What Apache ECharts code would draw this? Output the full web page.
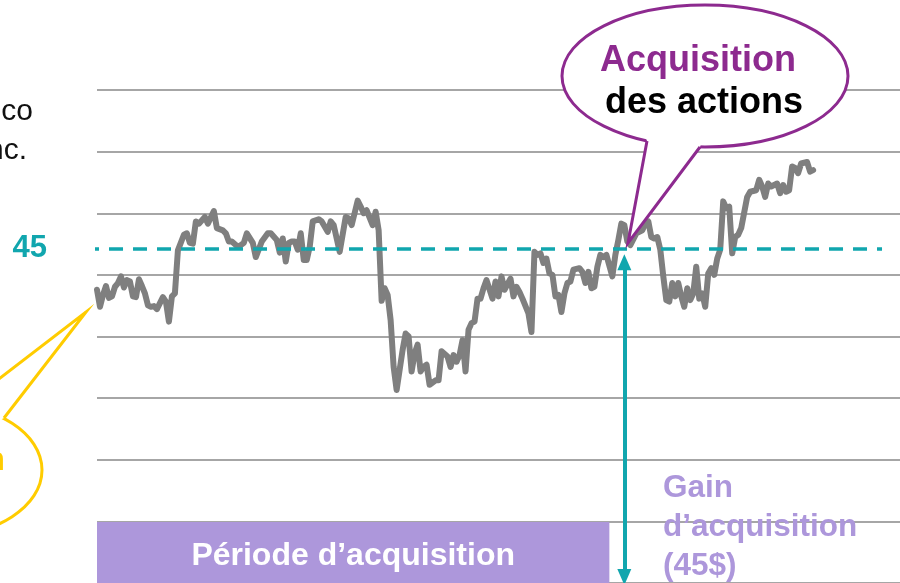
<!DOCTYPE html>
<html>
<head>
<meta charset="utf-8">
<script src="https://cdn.jsdelivr.net/npm/echarts@6/dist/echarts.min.js"></script>
<style>
  html, body { margin: 0; padding: 0; background: #fff; }
  #chart { width: 900px; height: 583px; }
</style>
</head>
<body>
<div id="chart"></div>
<script>
// cours de l'action (jours de bourse / prix en $)
const days = [
  0, 1, 2, 3, 4, 5, 6, 7, 8, 9, 10, 11, 12, 13, 14, 15, 16, 17, 18, 19, 20, 22, 23, 24, 25, 26, 27, 29, 30,
  31, 32, 33, 34, 36, 37, 39, 40, 42, 43, 44, 45, 47, 48, 49, 50, 52, 53, 55, 57, 58, 60, 61, 62, 63, 64,
  65, 66, 67, 68, 69, 70, 71, 72, 74, 75, 77, 78, 79, 81, 83, 84, 85, 87, 88, 89, 90, 92, 93, 94, 95, 96,
  97, 98, 99, 100, 102, 103, 104, 105, 106, 107, 108, 109, 110, 111, 113, 114, 115, 117, 118, 119, 120,
  121, 122, 123, 124, 125, 126, 127, 128, 129, 130, 132, 133, 134, 135, 136, 138, 139, 140, 141, 142,
  144, 145, 146, 147, 148, 149, 150, 151, 152, 153, 154, 155, 156, 157, 158, 159, 161, 162, 163, 164,
  165, 166, 167, 168, 169, 170, 172, 173, 174, 175, 176, 177, 178, 180, 182, 183, 184, 185, 186, 187,
  188, 189, 190, 191, 192, 193, 194, 195, 196, 197, 198, 199, 200, 201, 202, 203, 204, 205, 206, 207,
  208, 209, 210, 211, 212, 213, 214, 215, 217, 218, 220, 221, 222, 223, 224, 225, 227, 228, 229, 230,
  231, 232, 233, 234, 235, 237, 238, 239
];
const prices = [
  39.5, 37.2, 38.8, 40.0, 38.4, 38.6, 39.9, 40.4, 41.3, 39.8, 40.8, 40.6, 38.6, 38.5, 40.9, 40.0, 39.0,
  37.4, 37.2, 37.3, 36.9, 38.5, 37.9, 35.2, 38.6, 39.0, 44.8, 46.9, 47.1,
  45.8, 45.7, 48.7, 48.4, 49.3, 48.4, 50.1, 47.8, 47.5, 47.1, 46.0, 46.0, 45.3, 45.5, 45.8, 47.1, 45.8,
  43.9, 46.0, 47.1, 47.1, 46.2, 44.5, 46.4, 43.3, 45.8,
  46.0, 46.0, 44.9, 47.1, 43.5, 43.5, 45.3, 48.7, 49.0, 48.7, 47.3, 48.7, 48.2, 44.6, 49.3, 49.1, 48.2,
  51.5, 50.7, 49.8, 50.2, 48.2, 50.0, 47.5, 38.0, 39.7,
  38.8, 35.4, 29.1, 26.0, 31.4, 33.6, 33.2, 28.5, 30.9, 32.1, 28.5, 29.1, 29.4, 26.7, 27.3, 27.3, 31.2,
  30.5, 29.1, 30.7, 29.8,
  30.7, 32.7, 28.5, 34.1, 35.0, 35.2, 38.3, 38.3, 39.7, 40.8, 38.3, 40.6, 38.6, 41.3, 39.5, 41.0, 38.6,
  39.9, 39.2, 38.3,
  36.3, 33.8, 44.6, 44.2, 44.4, 43.1, 43.7, 41.7, 41.5, 38.6, 38.8, 36.5, 39.0, 40.4, 40.6, 42.2, 42.4,
  41.9, 40.4, 41.9,
  39.7, 39.9, 42.6, 44.2, 43.9, 44.2, 41.3, 44.2, 46.2, 48.4, 48.2, 46.0, 45.5, 47.1, 47.5, 48.4, 48.7,
  46.6, 46.4, 46.6,
  44.9, 41.3, 38.1, 37.9, 40.4, 38.6, 40.4, 38.6, 37.2, 39.7, 38.1, 39.0, 42.6, 38.3, 39.0, 37.2, 41.7,
  42.4, 41.5, 43.7,
  44.9, 51.4, 50.5, 50.7, 44.4, 46.6, 46.9, 47.8, 52.0, 52.7, 52.9, 54.3, 53.4, 52.0, 53.8, 53.4, 53.8,
  52.5, 53.6, 52.7,
  52.9, 56.1, 55.9, 55.2, 56.5, 56.7, 55.4, 55.6
];

// niveaux et repères
const strikePrice = 45;
const strikeLabel = '45';
const strikeFromDay = -4;
const strikeToDay = 262;
const periodStartDay = 0;
const periodEndDay = 171;
const periodLabel = 'Période d’acquisition';
const grantDay = 176;
const gainLabel = 'Gain\nd’acquisition\n(45$)';
const calloutTitle = 'Acquisition';
const calloutSub = 'des actions';
const companyLines = ['co', 'nc.'];

const FONT = "'Liberation Sans', Arial, sans-serif";
const TEAL = '#11a6ae';
const PURPLE = '#8d2a8f';
const LAVENDER = '#ad97db';
const YELLOW = '#ffcc00';

const priceData = days.map((d, i) => [d, prices[i]]);

const chart = echarts.init(document.getElementById('chart'));

function txt(x, y, text, font, fill, align) {
    return {
        type: 'text', x: x, y: y, z: 110,
        style: {
            text: text, font: font, fill: fill,
            align: align, textAlign: align,
            verticalAlign: 'middle', textVerticalAlign: 'middle'
        }
    };
}

const option = {
    animation: false,
    grid: { left: 97, right: 0, top: 90, bottom: 0 },
    xAxis: { type: 'value', min: 0, max: 268, show: false },
    yAxis: {
        type: 'value',
        min: 0,
        max: 66.4,
        interval: 8.3,
        axisLine: { show: false },
        axisTick: { show: false },
        axisLabel: { show: false },
        splitLine: { lineStyle: { color: '#a6a6a6', width: 2 } }
    },
    series: [
        {
            name: 'cours',
            type: 'line',
            data: priceData,
            showSymbol: false,
            z: 2,
            lineStyle: { color: '#7f7f7f', width: 6, join: 'round', cap: 'round' },
            markArea: {
                silent: true,
                itemStyle: { color: LAVENDER },
                label: {
                    show: true,
                    position: 'inside',
                    offset: [0, 4],
                    formatter: periodLabel,
                    color: '#fff',
                    fontFamily: FONT,
                    fontWeight: 'bold',
                    fontSize: 32
                },
                data: [[{ coord: [periodStartDay, 0] }, { coord: [periodEndDay, 8.2] }]]
            }
        },
        {
            name: 'prix',
            type: 'line',
            clip: false,
            z: 4,
            symbol: 'circle',
            symbolSize: 0,
            showSymbol: true,
            lineStyle: { color: TEAL, width: 3.5, type: [14, 10] },
            data: [
                {
                    value: [strikeFromDay, strikePrice],
                    label: {
                        show: true,
                        position: 'left',
                        distance: 38,
                        formatter: strikeLabel,
                        color: TEAL,
                        fontFamily: FONT,
                        fontWeight: 'bold',
                        fontSize: 31
                    }
                },
                [strikeToDay, strikePrice]
            ],
            markLine: {
                silent: true,
                symbol: ['triangle', 'triangle'],
                symbolSize: [14, 16],
                label: { show: false },
                lineStyle: { color: TEAL, width: 4, type: 'solid' },
                data: [[{ coord: [grantDay, 43.2] }, { coord: [grantDay, 0.8] }]]
            }
        }
    ],
    graphic: [
        // texte coupé à gauche
        txt(33, 112, companyLines[0], '30px ' + FONT, '#111', 'right'),
        txt(27, 151, companyLines[1], '30px ' + FONT, '#111', 'right'),

        // bulle jaune (coupée)
        { type: 'ellipse', z: 100, shape: { cx: -60, cy: 470, rx: 102, ry: 66 },
          style: { fill: '#fff', stroke: YELLOW, lineWidth: 3 } },
        { type: 'polygon', z: 101, shape: { points: [[-40, 409], [86, 312], [4, 418], [-20, 430]] },
          style: { fill: '#fff' } },
        { type: 'polyline', z: 102, shape: { points: [[-40, 409], [86, 312], [4, 418]] },
          style: { fill: null, stroke: YELLOW, lineWidth: 3 } },
        txt(5, 461, 'n', 'bold 34px ' + FONT, YELLOW, 'right'),

        // bulle "Acquisition des actions"
        { type: 'ellipse', z: 100, shape: { cx: 705, cy: 76, rx: 143, ry: 71 },
          style: { fill: '#fff', stroke: PURPLE, lineWidth: 3 } },
        { type: 'polygon', z: 101, shape: { points: [[645, 135], [647, 141], [628, 243], [700, 147], [703, 138]] },
          style: { fill: '#fff' } },
        { type: 'polyline', z: 102, shape: { points: [[647, 141], [628, 243], [700, 147]] },
          style: { fill: null, stroke: PURPLE, lineWidth: 3, lineJoin: 'miter' } },
        txt(698, 61, calloutTitle, 'bold 36px ' + FONT, PURPLE, 'center'),
        txt(704, 103, calloutSub, 'bold 36px ' + FONT, '#000', 'center'),

        // gain d'acquisition
        {
            type: 'text', x: 663, y: 469, z: 110,
            style: {
                text: gainLabel, font: 'bold 31.5px ' + FONT, fill: LAVENDER, lineHeight: 39,
                align: 'left', textAlign: 'left', verticalAlign: 'top', textVerticalAlign: 'top'
            }
        }
    ]
};

chart.setOption(option);
window.addEventListener('resize', function() {
    chart && chart.resize();
});
</script>
</body>
</html>
